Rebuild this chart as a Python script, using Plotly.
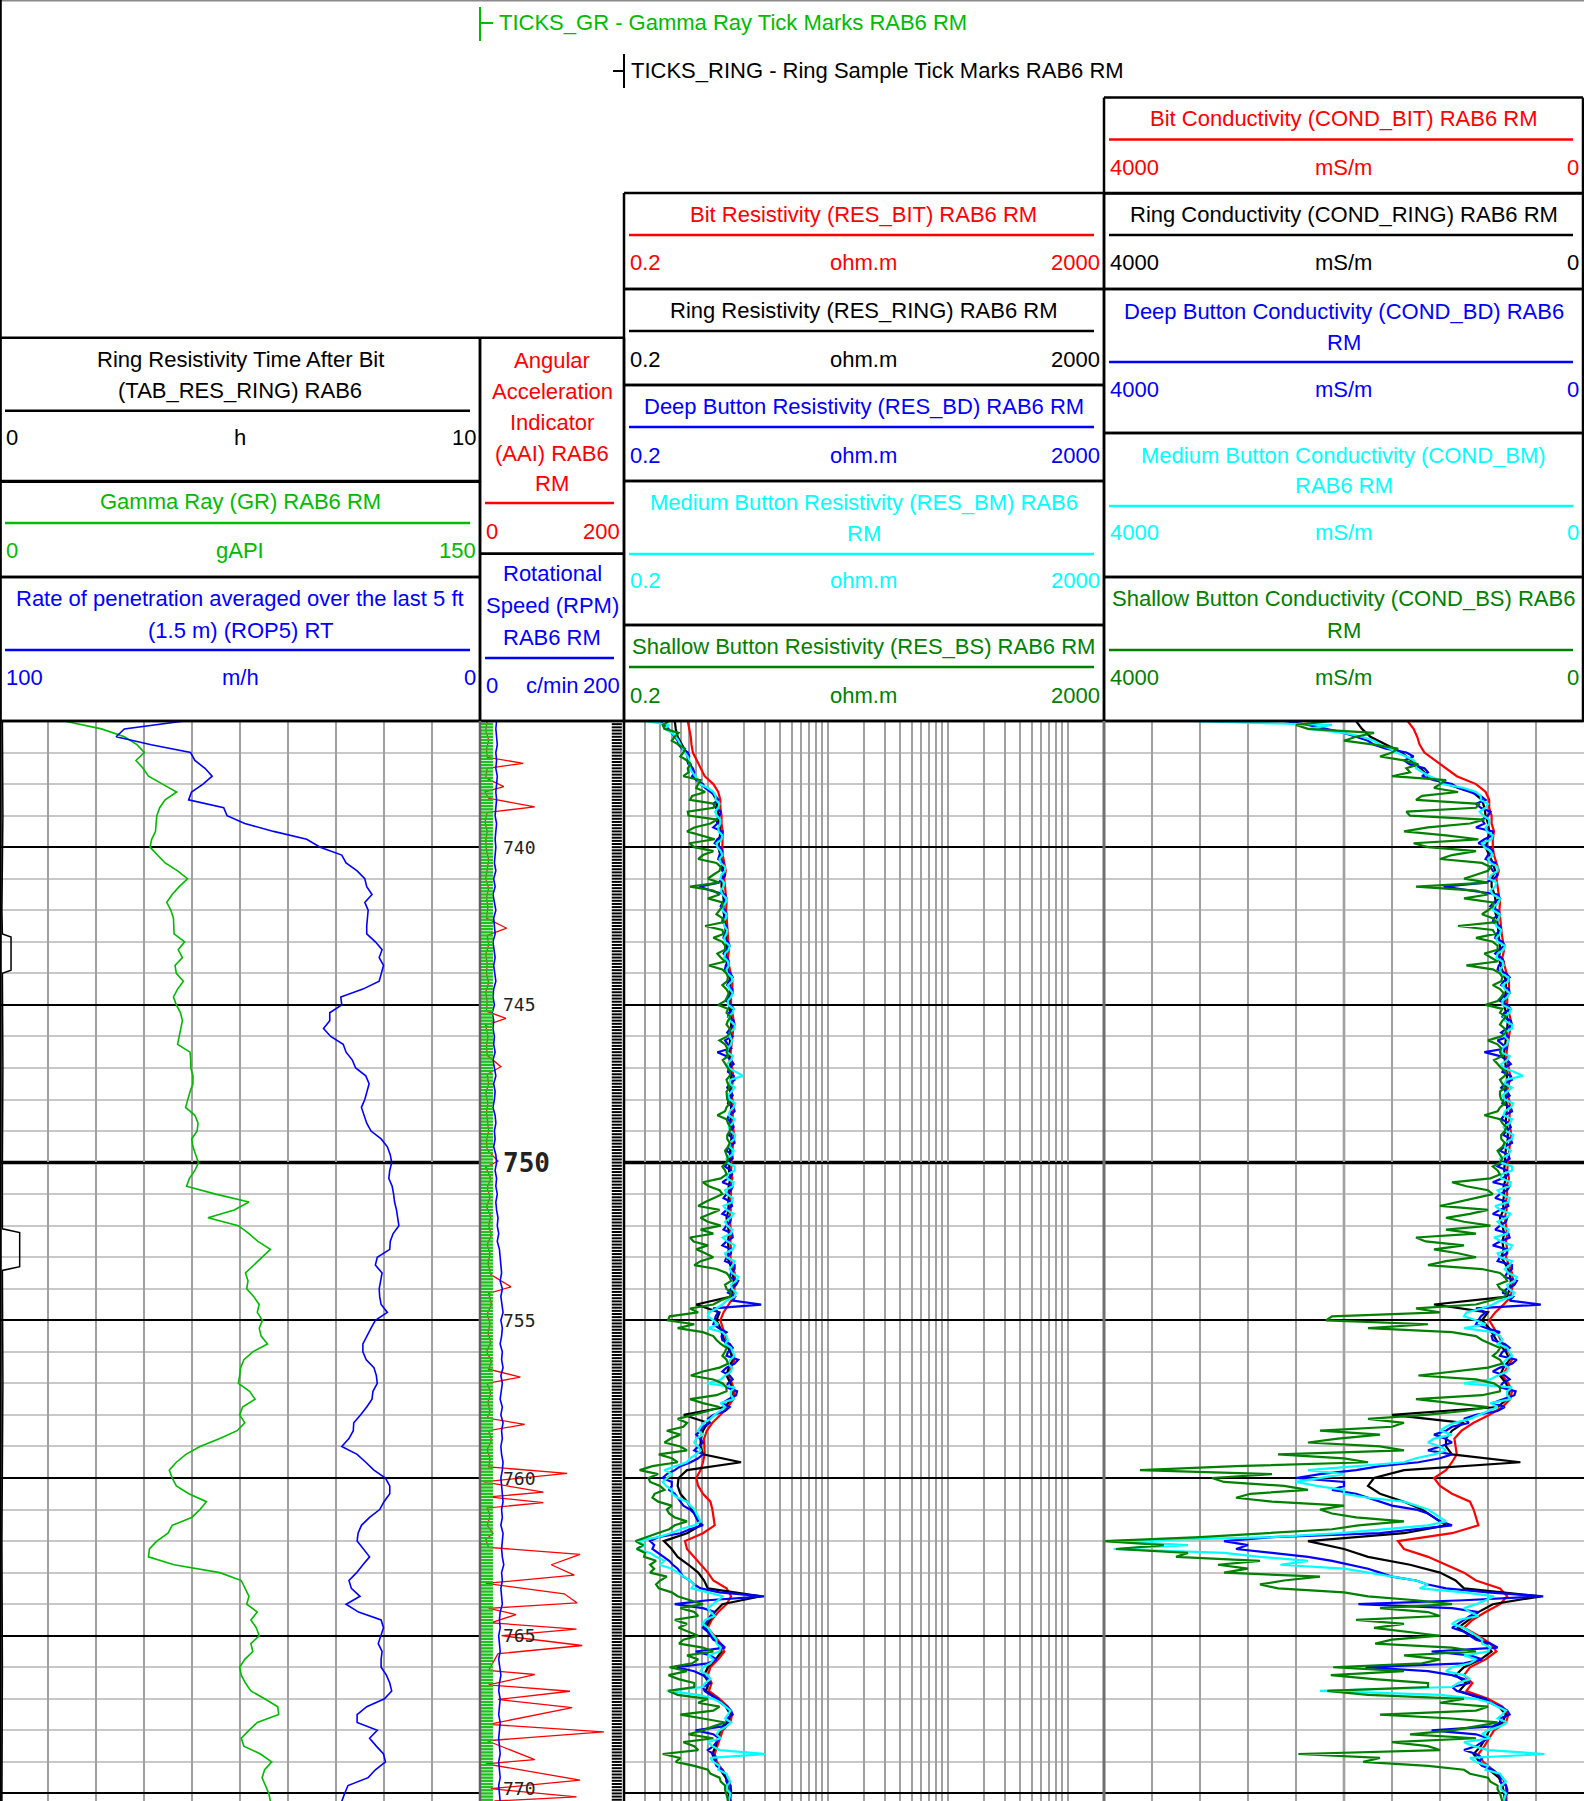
import numpy as np
import plotly.graph_objects as go

W, H = 1584, 1801
TOP_PX = 721

# ---------------- depth index ----------------
DEPTH_TOP = 736.0
DEPTH_BOTTOM = 770.24
DEPTH_STEP = 0.25
N_SAMPLES = 138
DEPTH = np.round(DEPTH_TOP + DEPTH_STEP * np.arange(N_SAMPLES), 3)
MID_DEPTH = np.round(DEPTH[:-1] + DEPTH_STEP / 2, 3)

DEPTH_LABELS = [740, 745, 750, 755, 760, 765, 770]
BOLD_DEPTH = 750

# ---------------- track 1 ----------------
GR = [20, 31.7, 38.9, 42.8, 45.1, 42.5, 44.7, 46.4, 50.8, 55.2,
      51.6, 49.9, 49, 48.7, 48.6, 47.4, 46.9, 49.2, 51.6, 55.5,
      58.6, 56, 53.8, 52.1, 53.4, 54.2, 54.4, 54.4, 57.7, 55.7,
      57, 54.7, 55.1, 57.3, 55.5, 54.2, 55.1, 56.4, 57, 56.4,
      56, 55.5, 59.4, 59.6, 59.6, 60.3, 60.3, 59.4, 58.6, 58,
      60.9, 61.9, 61.6, 59.9, 60.3, 61.2, 62, 60.9, 59.2, 58.3,
      67.4, 77.8, 73.2, 65, 74.5, 77.8, 80.6, 84.5, 81.9, 79.3,
      76.7, 77.5, 77.1, 79.3, 81, 80.4, 82, 81, 81.6, 83.6,
      79, 76.2, 75.2, 74.9, 74.5, 78, 79.7, 75.8, 74.9, 76.5,
      74.1, 68.7, 62.5, 58.1, 55.1, 52.9, 53.8, 55.1, 59, 64.5,
      62.5, 59.9, 53.8, 52.5, 49, 46.7, 46.4, 54.4, 68.7, 75.4,
      76.7, 77.8, 77.1, 80.4, 78.4, 80.1, 81, 78.4, 79, 76.5,
      74.9, 75.4, 76.7, 78.4, 82.7, 86.8, 87.1, 80.4, 77.8, 75.4,
      76.2, 81.4, 84.9, 82.7, 81.9, 82.9, 84, 84.5]

ROP5 = [61.6, 74.1, 75.8, 68.5, 60.3, 59.4, 57.3, 55.8, 57.7, 60.1,
        60.7, 53.4, 52.7, 49, 43, 36.1, 33.3, 28.8, 27.9, 25.6,
        24, 23.6, 22.5, 24, 23.3, 23.5, 23.6, 23.6, 21.8, 20.4,
        21, 20.1, 20.6, 21, 24.4, 29, 28.8, 31.3, 31.3, 32.6,
        31.1, 28.5, 27.9, 26.6, 25.9, 23.8, 23.1, 23.6, 24, 24.7,
        24.2, 23.6, 22.7, 20.6, 19.3, 18.7, 18.4, 18.8, 19, 18.3,
        18, 17.8, 17.4, 17.1, 16.9, 18.1, 18.7, 18.8, 21.4, 21.8,
        20.4, 20.7, 21, 20.9, 20.6, 19.3, 21.8, 22.7, 23.6, 24.4,
        24.4, 23.7, 22.1, 21.6, 21.4, 22.3, 22.5, 23.6, 24.9, 26.3,
        26.4, 27.3, 28.8, 25.6, 23.8, 22.1, 19.7, 18.8, 18.8, 20,
        20.9, 23, 24.7, 25.4, 25.6, 24.2, 23, 24.4, 25.7, 27.3,
        26.8, 25, 27.9, 25.3, 20.6, 20.1, 20.6, 21.2, 20.4, 20.6,
        20.6, 19.5, 18.8, 18.4, 19.9, 23.6, 25.6, 25.6, 21.4, 23,
        21.6, 20.1, 19.7, 21.8, 23.3, 27.5, 28.2, 28.8]

TAB_DEPTH = [736.0, 739.0, 742.0, 742.75, 742.85, 743.9, 744.0, 747.0, 750.0,
             752.1, 752.22, 753.3, 753.42, 757.0, 762.0, 766.0, 770.24]
TAB_RES_RING = [0.05, 0.06, 0.04, 0.05, 0.23, 0.23, 0.05, 0.06, 0.05,
                0.05, 0.41, 0.41, 0.05, 0.06, 0.04, 0.05, 0.04]

# ---------------- depth track ----------------
RPM = [23, 22, 23, 24, 22, 23, 22, 24, 23, 22,
       23, 22, 21, 23, 22, 21, 22, 21, 20, 22,
       19, 21, 18, 20, 22, 19, 20, 21, 18, 20,
       21, 19, 20, 22, 19, 18, 20, 17, 19, 18,
       20, 19, 21, 18, 20, 22, 19, 21, 20, 18,
       21, 22, 20, 21, 19, 22, 23, 21, 23, 22,
       24, 22, 23, 25, 24, 26, 24, 27, 28, 29,
       30, 28, 31, 29, 30, 32, 29, 31, 30, 28,
       31, 30, 32, 29, 31, 30, 28, 31, 29, 32,
       30, 31, 29, 30, 32, 31, 29, 30, 31, 32,
       30, 31, 29, 32, 31, 30, 31, 33, 30, 31,
       29, 30, 31, 28, 27, 28, 26, 27, 28, 26,
       27, 29, 27, 26, 28, 27, 26, 28, 27, 26,
       27, 28, 26, 27, 28, 26, 27, 28]

AAI_DEPTH = [736.0, 736.3, 736.6, 736.9, 737.15, 737.34, 737.5, 737.8, 738.08, 738.25,
             738.45, 738.72, 738.9, 739.2, 739.5, 739.8, 740.1, 740.4, 740.7, 741.0,
             741.3, 741.6, 741.9, 742.25, 742.57, 742.8, 743.1, 743.4, 743.7, 744.0,
             744.3, 744.6, 744.9, 745.2, 745.43, 745.65, 746.0, 746.3, 746.6, 746.96,
             747.2, 747.5, 747.8, 748.1, 748.4, 748.7, 749.0, 749.3, 749.6, 749.95,
             750.15, 750.5, 750.8, 751.1, 751.4, 751.7, 752.0, 752.3, 752.6, 752.9,
             753.2, 753.55, 753.94, 754.15, 754.5, 754.8, 755.1, 755.4, 755.7, 756.0,
             756.3, 756.55, 756.8, 757.0, 757.3, 757.6, 757.9, 758.1, 758.3, 758.5,
             758.8, 759.1, 759.4, 759.65, 759.85, 760.12, 760.45, 760.6, 760.78, 760.95,
             761.2, 761.5, 761.75, 761.96, 762.2, 762.42, 762.75, 763.08, 763.34, 763.67,
             763.96, 764.13, 764.33, 764.59, 764.79, 765.0, 765.31, 765.57, 766.1, 766.23,
             766.56, 766.76, 767.02, 767.28, 767.81, 768.05, 768.33, 768.93, 769.06, 769.58,
             769.85, 770.11, 770.24]
AAI = [10, 8, 12, 9, 10, 60, 10, 8, 33, 7,
       12, 76, 10, 7, 10, 8, 9, 12, 10, 8,
       12, 9, 11, 9, 37, 10, 12, 8, 10, 9,
       12, 8, 10, 9, 36, 8, 11, 9, 10, 29,
       10, 12, 8, 11, 9, 10, 12, 9, 10, 25,
       8, 15, 10, 14, 9, 15, 12, 16, 10, 14,
       11, 15, 43, 12, 16, 10, 14, 11, 15, 9,
       16, 12, 56, 10, 15, 11, 14, 10, 62, 12,
       16, 10, 14, 12, 121, 5, 88, 12, 88, 10,
       14, 10, 18, 8, 12, 139, 99, 131, 8, 117,
       135, 12, 50, 15, 134, 30, 142, 25, 12, 76,
       12, 125, 25, 128, 12, 172, 10, 76, 8, 139,
       15, 134, 20]

# ---------------- track 2 : resistivity (ohm.m) ----------------
RES_BIT = [0.68, 0.70, 0.72, 0.73, 0.75, 0.81, 0.87, 0.94, 1.11, 1.22,
           1.27, 1.27, 1.30, 1.30, 1.33, 1.32, 1.32, 1.33, 1.37, 1.41,
           1.37, 1.39, 1.41, 1.43, 1.42, 1.43, 1.45, 1.46, 1.48, 1.50,
           1.47, 1.50, 1.55, 1.60, 1.60, 1.56, 1.56, 1.60, 1.64, 1.63,
           1.60, 1.56, 1.55, 1.56, 1.60, 1.63, 1.60, 1.56, 1.60, 1.63,
           1.61, 1.60, 1.64, 1.64, 1.61, 1.60, 1.59, 1.56, 1.60, 1.55,
           1.56, 1.54, 1.55, 1.52, 1.54, 1.56, 1.54, 1.56, 1.54, 1.60,
           1.67, 1.69, 1.67, 1.64, 1.49, 1.35, 1.27, 1.33, 1.41, 1.47,
           1.60, 1.67, 1.56, 1.47, 1.59, 1.67, 1.63, 1.47, 1.27, 1.09,
           0.98, 0.93, 0.935, 0.94, 0.91, 0.87, 0.80, 0.83, 0.91, 1.05,
           1.09, 1.11, 1.14, 0.91, 0.645, 0.67, 0.77, 0.87, 1.00, 1.11,
           1.43, 1.56, 1.43, 1.22, 1.075, 1.00, 1.14, 1.28, 1.37, 1.22,
           1.05, 1.00, 1.075, 1.02, 1.25, 1.47, 1.59, 1.54, 1.33, 1.27,
           1.20, 1.14, 1.19, 1.32, 1.47, 1.54, 1.55, 1.55]

RES_RING = [0.53, 0.54, 0.56, 0.61, 0.66, 0.69, 0.74, 0.77, 0.87, 1.08,
            1.18, 1.20, 1.22, 1.25, 1.27, 1.25, 1.22, 1.27, 1.32, 1.35,
            1.30, 1.30, 1.34, 1.36, 1.34, 1.38, 1.39, 1.41, 1.42, 1.44,
            1.41, 1.44, 1.48, 1.54, 1.54, 1.52, 1.50, 1.54, 1.57, 1.56,
            1.54, 1.53, 1.50, 1.52, 1.54, 1.56, 1.54, 1.53, 1.54, 1.56,
            1.54, 1.54, 1.57, 1.57, 1.54, 1.53, 1.52, 1.50, 1.54, 1.49,
            1.50, 1.48, 1.49, 1.43, 1.47, 1.50, 1.47, 1.49, 1.45, 1.54,
            1.61, 1.64, 1.61, 1.56, 0.80, 1.25, 1.18, 1.27, 1.33, 1.41,
            1.54, 1.61, 1.49, 1.43, 1.54, 1.61, 1.56, 1.39, 0.63, 1.00,
            0.91, 0.87, 0.87, 0.91, 1.89, 0.67, 0.57, 0.56, 0.59, 0.67,
            0.74, 0.80, 0.87, 0.67, 0.43, 0.50, 0.56, 0.69, 0.83, 0.93,
            1.00, 2.78, 1.32, 1.14, 1.04, 0.95, 1.08, 1.22, 1.30, 1.16,
            1.00, 0.93, 1.02, 0.96, 1.18, 1.41, 1.54, 1.47, 1.27, 1.22,
            1.16, 1.09, 1.15, 1.27, 1.41, 1.47, 1.50, 1.52]

RES_BD = [0.40, 0.47, 0.53, 0.57, 0.68, 0.67, 0.75, 0.74, 0.91, 1.05,
          1.22, 1.16, 1.25, 1.20, 1.32, 1.20, 1.27, 1.25, 1.35, 1.32,
          1.33, 0.85, 1.39, 1.33, 1.39, 1.33, 1.43, 1.37, 1.47, 1.41,
          1.45, 1.41, 1.54, 1.49, 1.60, 1.47, 1.56, 1.50, 1.64, 1.54,
          1.60, 1.47, 1.20, 1.56, 1.50, 1.64, 1.52, 1.56, 1.49, 1.64,
          1.50, 1.60, 1.54, 1.64, 1.50, 1.59, 1.47, 1.56, 1.47, 1.61,
          1.43, 1.56, 1.43, 1.56, 1.43, 1.59, 1.43, 1.56, 1.43, 1.67,
          1.56, 1.79, 1.56, 1.69, 2.78, 1.22, 1.14, 1.23, 1.30, 1.52,
          1.47, 1.79, 1.43, 1.52, 1.47, 1.75, 1.49, 1.52, 1.11, 1.04,
          0.87, 0.86, 0.83, 0.91, 0.72, 0.53, 0.42, 0.50, 0.53, 0.59,
          0.71, 0.80, 0.91, 0.59, 0.33, 0.345, 0.435, 0.51, 0.59, 0.71,
          0.87, 2.94, 0.53, 1.14, 1.00, 0.91, 1.05, 1.28, 0.79, 1.18,
          0.55, 0.91, 1.05, 0.94, 1.22, 1.45, 1.61, 1.43, 0.79, 1.25,
          1.11, 1.11, 1.14, 1.32, 1.45, 1.54, 1.56, 1.54]
RES_BD_MID = [0.435, 0.50, 0.56, 0.61, 0.70, 0.69, 0.77, 0.80, 0.95, 1.16,
              1.11, 1.28, 1.18, 1.11, 1.32, 1.14, 1.32, 1.22, 1.28, 1.39,
              1.22, 1.05, 1.43, 1.28, 1.43, 1.32, 1.45, 1.35, 1.52, 1.35,
              1.49, 1.39, 1.61, 1.45, 1.61, 1.43, 1.64, 1.47, 1.67, 1.45,
              1.39, 1.56, 1.43, 1.64, 1.47, 1.67, 1.45, 1.61, 1.47, 1.67,
              1.45, 1.64, 1.49, 1.67, 1.43, 1.61, 1.39, 1.59, 1.32, 1.56,
              1.35, 1.59, 1.32, 1.54, 1.35, 1.61, 1.32, 1.56, 1.39, 1.67,
              1.52, 1.72, 1.47, 1.61, 1.11, 1.16, 1.11, 1.43, 1.32, 1.61,
              1.43, 1.67, 1.32, 1.61, 1.43, 1.72, 1.32, 1.39, 1.00, 0.91,
              0.80, 0.91, 0.77, 0.83, 0.59, 0.455, 0.50, 0.476, 0.56, 0.625,
              0.77, 0.83, 0.71, 0.385, 0.357, 0.385, 0.476, 0.56, 0.625, 0.77,
              1.25, 1.00, 0.91, 1.05, 0.95, 1.00, 1.11, 1.39, 1.05, 1.00,
              0.77, 1.00, 0.91, 1.05, 1.28, 1.56, 1.43, 1.32, 1.11, 1.18,
              1.00, 1.18, 1.18, 1.39, 1.43, 1.56, 1.52]

RES_BM = [0.30, 0.435, 0.54, 0.59, 0.64, 0.70, 0.71, 0.78, 0.85, 1.11,
          1.16, 1.22, 1.19, 1.27, 1.23, 1.30, 1.20, 1.32, 1.28, 1.39,
          1.27, 1.35, 1.32, 1.41, 1.32, 1.41, 1.37, 1.43, 1.39, 1.49,
          1.37, 1.49, 1.45, 1.59, 1.52, 1.56, 1.47, 1.61, 1.52, 1.67,
          1.52, 1.56, 1.45, 1.56, 1.49, 1.96, 1.52, 1.56, 1.52, 1.64,
          1.49, 1.61, 1.54, 1.67, 1.52, 1.59, 1.45, 1.67, 1.45, 1.61,
          1.45, 1.59, 1.43, 1.54, 1.45, 1.56, 1.45, 1.61, 1.43, 1.61,
          1.59, 1.72, 1.59, 1.67, 1.32, 1.02, 1.11, 1.00, 1.43, 1.39,
          1.61, 1.54, 1.59, 1.39, 1.00, 1.56, 1.64, 1.39, 1.14, 0.93,
          0.83, 0.80, 0.83, 0.80, 0.67, 0.435, 0.455, 0.45, 0.50, 0.67,
          0.77, 0.83, 0.77, 0.49, 0.253, 0.255, 0.37, 0.395, 0.56, 0.71,
          0.73, 1.33, 1.11, 1.05, 0.95, 1.00, 1.11, 1.18, 1.25, 1.11,
          0.91, 1.00, 0.95, 0.455, 1.11, 1.39, 1.47, 1.56, 1.25, 1.28,
          1.09, 3.03, 1.11, 1.22, 1.47, 1.45, 1.54, 1.49]
RES_BM_MID = [0.476, 0.50, 0.57, 0.62, 0.68, 0.71, 0.74, 0.83, 1.00, 1.16,
              1.25, 1.15, 1.27, 1.22, 1.32, 1.18, 1.28, 1.25, 1.39, 1.30,
              1.37, 1.28, 1.43, 1.33, 1.43, 1.35, 1.45, 1.37, 1.52, 1.39,
              1.47, 1.43, 1.59, 1.47, 1.61, 1.47, 1.64, 1.49, 1.67, 1.52,
              1.59, 1.47, 1.61, 1.45, 1.72, 1.54, 1.67, 1.47, 1.69, 1.52,
              1.67, 1.49, 1.69, 1.52, 1.64, 1.43, 1.67, 1.45, 1.64, 1.39,
              1.61, 1.35, 1.64, 1.39, 1.59, 1.33, 1.67, 1.39, 1.67, 1.52,
              1.79, 1.56, 1.72, 1.43, 1.18, 1.00, 1.22, 1.32, 1.47, 1.56,
              1.67, 1.47, 1.56, 1.28, 1.67, 1.56, 1.28, 1.25, 1.05, 0.87,
              0.91, 0.77, 0.87, 0.71, 0.53, 0.50, 0.42, 0.50, 0.56, 0.71,
              0.80, 0.87, 0.59, 0.385, 0.30, 0.33, 0.435, 0.50, 0.625, 0.77,
              1.00, 1.22, 1.00, 1.14, 0.91, 1.05, 1.18, 1.28, 1.00, 1.05,
              0.87, 1.05, 0.91, 0.83, 1.28, 1.54, 1.39, 1.43, 1.18, 1.00,
              1.25, 1.05, 1.25, 1.43, 1.54, 1.45, 1.52]

RES_BS = [0.476, 0.435, 0.53, 0.57, 0.625, 0.67, 0.68, 0.625, 0.83, 0.95,
          0.71, 1.11, 0.69, 1.05, 0.67, 1.14, 0.77, 0.91, 1.18, 1.25,
          1.00, 0.71, 1.25, 1.32, 1.25, 1.32, 0.95, 1.35, 1.32, 1.39,
          1.28, 1.02, 1.43, 1.45, 1.43, 1.45, 1.22, 1.43, 1.47, 1.52,
          1.45, 1.39, 1.43, 1.33, 1.45, 1.52, 1.47, 1.43, 1.45, 1.43,
          1.20, 1.47, 1.52, 1.45, 1.47, 1.43, 1.43, 1.39, 1.28, 1.02,
          1.32, 0.95, 1.25, 0.87, 1.28, 1.11, 0.76, 0.80, 1.11, 0.77,
          1.43, 1.56, 1.43, 1.52, 1.11, 0.83, 0.465, 0.56, 1.11, 1.28,
          1.39, 1.43, 1.25, 0.72, 1.33, 1.43, 0.71, 1.25, 0.76, 0.67,
          0.455, 0.49, 0.59, 0.39, 0.56, 0.27, 0.32, 0.40, 0.36, 0.385,
          0.455, 0.53, 0.53, 0.38, 0.25, 0.256, 0.294, 0.33, 0.33, 0.40,
          0.39, 0.56, 0.91, 0.77, 0.53, 0.57, 0.83, 0.575, 1.11, 0.83,
          0.48, 0.47, 0.77, 0.47, 1.00, 1.25, 0.59, 1.39, 0.91, 1.11,
          0.77, 0.42, 0.54, 1.00, 1.25, 1.39, 1.43, 1.47]
RES_BS_MID = [0.42, 0.57, 0.50, 0.645, 0.59, 0.72, 0.69, 0.87, 0.80, 0.74,
              1.15, 0.68, 1.20, 0.77, 0.87, 0.70, 1.11, 0.83, 1.28, 1.11,
              1.25, 1.11, 1.00, 1.32, 1.18, 1.37, 1.32, 1.11, 1.39, 1.20,
              1.39, 1.32, 1.47, 1.32, 1.49, 1.39, 1.47, 1.54, 1.43, 1.54,
              1.25, 1.45, 1.47, 1.39, 1.54, 1.43, 1.52, 1.43, 1.52, 1.39,
              1.43, 1.54, 1.45, 1.52, 1.39, 1.47, 1.32, 1.43, 0.91, 1.25,
              1.11, 0.83, 1.05, 1.00, 0.87, 0.71, 1.00, 0.95, 0.87, 1.18,
              1.52, 1.39, 1.56, 1.28, 0.71, 0.48, 0.77, 0.91, 1.18, 1.43,
              1.32, 1.47, 0.91, 1.11, 1.43, 1.18, 0.91, 1.00, 0.56, 0.625,
              0.59, 0.435, 0.67, 0.50, 0.345, 0.385, 0.33, 0.435, 0.345, 0.50,
              0.476, 0.67, 0.476, 0.31, 0.286, 0.30, 0.37, 0.357, 0.455, 0.37,
              0.50, 0.71, 0.59, 0.83, 0.67, 0.69, 0.625, 0.91, 0.67, 0.74,
              0.67, 0.57, 0.77, 0.56, 0.83, 1.11, 0.91, 1.11, 0.69, 0.625,
              0.83, 0.59, 0.77, 1.05, 1.28, 1.39, 1.45]

# ---------------- track 3 : conductivity (mS/m) ----------------
COND_BIT = [1470, 1420, 1390, 1370, 1330, 1240, 1150, 1060, 900, 820,
            790, 790, 770, 770, 750, 760, 760, 750, 730, 710,
            730, 720, 710, 700, 705, 700, 690, 685, 675, 665,
            680, 665, 645, 625, 625, 640, 640, 625, 610, 615,
            625, 640, 645, 640, 625, 615, 625, 640, 625, 615,
            620, 625, 610, 610, 620, 625, 630, 640, 625, 645,
            640, 650, 645, 660, 650, 640, 650, 640, 650, 625,
            600, 590, 600, 610, 670, 740, 790, 750, 710, 680,
            625, 600, 640, 680, 630, 600, 615, 680, 790, 920,
            1020, 1080, 1070, 1060, 1100, 1150, 1250, 1200, 1100, 950,
            920, 900, 880, 1100, 1550, 1500, 1300, 1150, 1000, 900,
            700, 640, 700, 820, 930, 1000, 880, 780, 730, 820,
            950, 1000, 930, 980, 800, 680, 630, 650, 750, 790,
            830, 880, 840, 760, 680, 650, 645, 645]

COND_RING = [1900, 1850, 1780, 1650, 1520, 1440, 1360, 1300, 1150, 930,
             850, 830, 820, 800, 790, 800, 820, 790, 760, 740,
             770, 770, 745, 735, 745, 725, 720, 710, 705, 695,
             710, 695, 675, 650, 650, 660, 665, 650, 635, 640,
             650, 655, 665, 660, 650, 640, 650, 655, 650, 640,
             650, 650, 635, 635, 650, 655, 660, 665, 650, 670,
             665, 675, 670, 700, 680, 665, 680, 670, 690, 650,
             620, 610, 620, 640, 1250, 800, 850, 790, 750, 710,
             650, 620, 670, 700, 650, 620, 640, 720, 1600, 1000,
             1100, 1150, 1150, 1100, 530, 1500, 1750, 1800, 1700, 1500,
             1350, 1250, 1150, 1500, 2300, 2000, 1800, 1450, 1200, 1070,
             1000, 360, 760, 880, 960, 1050, 930, 820, 770, 860,
             1000, 1070, 980, 1040, 850, 710, 650, 680, 790, 820,
             860, 920, 870, 790, 710, 680, 665, 660]

COND_BD = [2500, 2150, 1900, 1750, 1480, 1500, 1330, 1350, 1100, 950,
           820, 860, 800, 830, 760, 830, 790, 800, 740, 760,
           750, 1170, 720, 750, 720, 750, 700, 730, 680, 710,
           690, 710, 650, 670, 625, 680, 640, 665, 610, 650,
           625, 680, 830, 640, 665, 610, 660, 640, 670, 610,
           665, 625, 650, 610, 665, 630, 680, 640, 680, 620,
           700, 640, 700, 640, 700, 630, 700, 640, 700, 600,
           640, 560, 640, 590, 360, 820, 880, 810, 770, 660,
           680, 560, 700, 660, 680, 570, 670, 660, 900, 960,
           1150, 1160, 1200, 1100, 1380, 1900, 2400, 2000, 1900, 1700,
           1400, 1250, 1100, 1700, 3000, 2900, 2300, 1950, 1700, 1400,
           1150, 340, 1880, 880, 1000, 1100, 950, 780, 1270, 850,
           1820, 1100, 950, 1060, 820, 690, 620, 700, 1270, 800,
           900, 900, 880, 760, 690, 650, 640, 650]
COND_BD_MID = [2300, 2000, 1800, 1650, 1420, 1450, 1300, 1250, 1050, 860,
               900, 780, 850, 900, 760, 880, 760, 820, 780, 720,
               820, 950, 700, 780, 700, 760, 690, 740, 660, 740,
               670, 720, 620, 690, 620, 700, 610, 680, 600, 690,
               720, 640, 700, 610, 680, 600, 690, 620, 680, 600,
               690, 610, 670, 600, 700, 620, 720, 630, 760, 640,
               740, 630, 760, 650, 740, 620, 760, 640, 720, 600,
               660, 580, 680, 620, 900, 860, 900, 700, 760, 620,
               700, 600, 760, 620, 700, 580, 760, 720, 1000, 1100,
               1250, 1100, 1300, 1200, 1700, 2200, 2000, 2100, 1800, 1600,
               1300, 1200, 1400, 2600, 2800, 2600, 2100, 1800, 1600, 1300,
               800, 1000, 1100, 950, 1050, 1000, 900, 720, 950, 1000,
               1300, 1000, 1100, 950, 780, 640, 700, 760, 900, 850,
               1000, 850, 850, 720, 700, 640, 660]

COND_BM = [3300, 2300, 1850, 1700, 1560, 1420, 1400, 1290, 1180, 900,
           860, 820, 840, 790, 810, 770, 830, 760, 780, 720,
           790, 740, 760, 710, 760, 710, 730, 700, 720, 670,
           730, 670, 690, 630, 660, 640, 680, 620, 660, 600,
           660, 640, 690, 640, 670, 510, 660, 640, 660, 610,
           670, 620, 650, 600, 660, 630, 690, 600, 690, 620,
           690, 630, 700, 650, 690, 640, 690, 620, 700, 620,
           630, 580, 630, 600, 760, 980, 900, 1000, 700, 720,
           620, 650, 630, 720, 1000, 640, 610, 720, 880, 1080,
           1200, 1250, 1200, 1250, 1500, 2300, 2200, 2230, 2000, 1500,
           1300, 1200, 1300, 2030, 3950, 3920, 2700, 2530, 1800, 1400,
           1370, 750, 900, 950, 1050, 1000, 900, 850, 800, 900,
           1100, 1000, 1050, 2200, 900, 720, 680, 640, 800, 780,
           920, 330, 900, 820, 680, 690, 650, 670]
COND_BM_MID = [2100, 2000, 1750, 1620, 1480, 1400, 1350, 1200, 1000, 860,
               800, 870, 790, 820, 760, 850, 780, 800, 720, 770,
               730, 780, 700, 750, 700, 740, 690, 730, 660, 720,
               680, 700, 630, 680, 620, 680, 610, 670, 600, 660,
               630, 680, 620, 690, 580, 650, 600, 680, 590, 660,
               600, 670, 590, 660, 610, 700, 600, 690, 610, 720,
               620, 740, 610, 720, 630, 750, 600, 720, 600, 660,
               560, 640, 580, 700, 850, 1000, 820, 760, 680, 640,
               600, 680, 640, 780, 600, 640, 780, 800, 950, 1150,
               1100, 1300, 1150, 1400, 1900, 2000, 2400, 2000, 1800, 1400,
               1250, 1150, 1700, 2600, 3300, 3000, 2300, 2000, 1600, 1300,
               1000, 820, 1000, 880, 1100, 950, 850, 780, 1000, 950,
               1150, 950, 1100, 1200, 780, 650, 720, 700, 850, 1000,
               800, 950, 800, 700, 650, 690, 660]

COND_BS = [2100, 2300, 1900, 1750, 1600, 1500, 1480, 1600, 1200, 1050,
           1400, 900, 1450, 950, 1500, 880, 1300, 1100, 850, 800,
           1000, 1400, 800, 760, 800, 760, 1050, 740, 760, 720,
           780, 980, 700, 690, 700, 690, 820, 700, 680, 660,
           690, 720, 700, 750, 690, 660, 680, 700, 690, 700,
           830, 680, 660, 690, 680, 700, 700, 720, 780, 980,
           760, 1050, 800, 1150, 780, 900, 1320, 1250, 900, 1300,
           700, 640, 700, 660, 900, 1200, 2150, 1800, 900, 780,
           720, 700, 800, 1380, 750, 700, 1400, 800, 1320, 1500,
           2200, 2050, 1700, 2550, 1800, 3700, 3100, 2500, 2780, 2600,
           2200, 1900, 1880, 2650, 4000, 3900, 3400, 3050, 3000, 2500,
           2550, 1800, 1100, 1300, 1900, 1750, 1200, 1740, 900, 1200,
           2090, 2110, 1300, 2140, 1000, 800, 1700, 720, 1100, 900,
           1300, 2380, 1840, 1000, 800, 720, 700, 680]
COND_BS_MID = [2400, 1750, 2000, 1550, 1700, 1380, 1450, 1150, 1250, 1350,
               870, 1480, 830, 1300, 1150, 1420, 900, 1200, 780, 900,
               800, 900, 1000, 760, 850, 730, 760, 900, 720, 830,
               720, 760, 680, 760, 670, 720, 680, 650, 700, 650,
               800, 690, 680, 720, 650, 700, 660, 700, 660, 720,
               700, 650, 690, 660, 720, 680, 760, 700, 1100, 800,
               900, 1200, 950, 1000, 1150, 1400, 1000, 1050, 1150, 850,
               660, 720, 640, 780, 1400, 2100, 1300, 1100, 850, 700,
               760, 680, 1100, 900, 700, 850, 1100, 1000, 1800, 1600,
               1700, 2300, 1500, 2000, 2900, 2600, 3000, 2300, 2900, 2000,
               2100, 1500, 2100, 3200, 3500, 3300, 2700, 2800, 2200, 2700,
               2000, 1400, 1700, 1200, 1500, 1450, 1600, 1100, 1500, 1350,
               1500, 1750, 1300, 1800, 1200, 900, 1100, 900, 1450, 1600,
               1200, 1700, 1300, 950, 780, 720, 690]

# tick-mark sampling (sample marks in the depth track)
TICKS_GR_STEP = 0.1
TICKS_RING_STEP = 0.1

# ---------------- styling ----------------
FONT = "Liberation Sans, Arial, sans-serif"
MONO = "DejaVu Sans Mono, monospace"
GR_GREEN = "#00bb00"
BS_GREEN = "#008000"
CYAN = "#00ffff"
BLUE = "#0000ff"
RED = "#ff0000"
BLACK = "#000000"

T1 = (0, 480)
TD = (480, 624)
T2 = (624, 1104)
T3 = (1104, 1584)
YDOM = [0, (H - TOP_PX) / H]


def px(x):
    return x / W


def py(y):
    return 1 - y / H


def interleave(main, mid):
    out = []
    for i, v in enumerate(main):
        out.append(v)
        if i < len(mid):
            out.append(mid[i])
    return out


FULL_DEPTH = interleave(list(DEPTH), list(MID_DEPTH))

fig = go.Figure()


def add_curve(x, y, xa, ya, color, width):
    fig.add_trace(go.Scatter(x=x, y=y, xaxis=xa, yaxis=ya, mode="lines",
                             line=dict(color=color, width=width),
                             showlegend=False, hoverinfo="skip"))


# Track 1
add_curve(TAB_RES_RING, TAB_DEPTH, "x", "y", BLACK, 1.5)
add_curve(GR, DEPTH, "x2", "y", GR_GREEN, 1.6)
add_curve(ROP5, DEPTH, "x3", "y", BLUE, 1.6)


# Depth track tick marks
def tick_trace(step, x0, x1, color, width, opacity):
    depths = np.arange(DEPTH_TOP, DEPTH_BOTTOM, step)
    xs, ys = [], []
    for d in depths:
        xs += [x0, x1, None]
        ys += [d, d, None]
    fig.add_trace(go.Scatter(x=xs, y=ys, xaxis="x5", yaxis="y2", mode="lines",
                             line=dict(color=color, width=width), opacity=opacity,
                             showlegend=False, hoverinfo="skip"))


tick_trace(TICKS_GR_STEP, 0.0, 0.09, "#1fbf1f", 2.4, 1.0)
tick_trace(TICKS_RING_STEP, 0.915, 0.985, BLACK, 2.0, 1.0)
add_curve(AAI, AAI_DEPTH, "x4", "y2", RED, 1.3)
add_curve(RPM, DEPTH, "x4", "y2", BLUE, 1.6)

# Track 2
add_curve(RES_BIT, DEPTH, "x6", "y3", RED, 2.2)
add_curve(RES_RING, DEPTH, "x6", "y3", BLACK, 2.2)
add_curve(interleave(RES_BD, RES_BD_MID), FULL_DEPTH, "x6", "y3", BLUE, 2.2)
add_curve(interleave(RES_BM, RES_BM_MID), FULL_DEPTH, "x6", "y3", CYAN, 2.2)
add_curve(interleave(RES_BS, RES_BS_MID), FULL_DEPTH, "x6", "y3", BS_GREEN, 2.2)

# Track 3
add_curve(COND_BIT, DEPTH, "x7", "y4", RED, 2.2)
add_curve(COND_RING, DEPTH, "x7", "y4", BLACK, 2.2)
add_curve(interleave(COND_BD, COND_BD_MID), FULL_DEPTH, "x7", "y4", BLUE, 2.2)
add_curve(interleave(COND_BM, COND_BM_MID), FULL_DEPTH, "x7", "y4", CYAN, 2.2)
add_curve(interleave(COND_BS, COND_BS_MID), FULL_DEPTH, "x7", "y4", BS_GREEN, 2.2)

# ---------------- axes ----------------
common_y = dict(domain=YDOM, range=[DEPTH_BOTTOM, DEPTH_TOP], autorange=False,
                showticklabels=False, ticks="", zeroline=False, showline=False, fixedrange=True)
ygrid = dict(showgrid=True, dtick=5, tick0=0, gridcolor="#000000", gridwidth=2,
             minor=dict(dtick=1, tick0=0, showgrid=True, gridcolor="#c8c8c8", gridwidth=2))
xgrid = dict(showgrid=True, gridcolor="#a0a0a0", gridwidth=2, showticklabels=False,
             ticks="", zeroline=False, showline=False, fixedrange=True)

fig.update_layout(
    width=W, height=H, autosize=False,
    margin=dict(l=0, r=0, t=0, b=0, pad=0),
    paper_bgcolor="white", plot_bgcolor="rgba(0,0,0,0)",
    showlegend=False,
    xaxis=dict(domain=[px(T1[0]), px(T1[1])], range=[0, 10], dtick=1, tick0=0, anchor="y", **xgrid),
    xaxis2=dict(overlaying="x", range=[0, 150], visible=False, anchor="y"),
    xaxis3=dict(overlaying="x", range=[100, 0], visible=False, anchor="y"),
    xaxis4=dict(domain=[px(TD[0]), px(TD[1])], range=[0, 200], visible=False, anchor="y2"),
    xaxis5=dict(overlaying="x4", range=[0, 1], visible=False, anchor="y2"),
    xaxis6=dict(domain=[px(T2[0]), px(T2[1])], type="log",
                range=[np.log10(0.2), np.log10(2000)], dtick="D1", anchor="y3", **xgrid),
    xaxis7=dict(domain=[px(T3[0]), 1], range=[4000, 0], dtick=400, tick0=0, anchor="y4", **xgrid),
    yaxis=dict(anchor="x", **common_y, **ygrid),
    yaxis2=dict(anchor="x4", showgrid=False, **common_y),
    yaxis3=dict(anchor="x6", **common_y, **ygrid),
    yaxis4=dict(anchor="x7", **common_y, **ygrid),
)

shapes = []
annotations = []


def line(x0, y0, x1, y1, color=BLACK, width=2.5, layer="above"):
    shapes.append(dict(type="line", xref="paper", yref="paper",
                       x0=px(x0), y0=py(y0), x1=px(x1), y1=py(y1),
                       line=dict(color=color, width=width), layer=layer))


def text(s, x, y, color=BLACK, size=22, xanchor="center", family=FONT):
    annotations.append(dict(text=s, xref="paper", yref="paper", x=px(x), y=py(y),
                            xanchor=xanchor, yanchor="middle", showarrow=False,
                            font=dict(family=family, size=size, color=color)))


def header_box(x0, x1, top, titles, title_ys, rule_y, val_y, bottom, color, left, unit, right):
    line(x0, top, x1, top)
    line(x0, bottom, x1, bottom)
    line(x0, top, x0, bottom)
    line(x1, top, x1, bottom)
    for t, ty in zip(titles, title_ys):
        text(t, (x0 + x1) / 2, ty, color)
    line(x0 + 5, rule_y, x1 - 10, rule_y, color=color, width=2.5)
    text(left, x0 + 4, val_y, color, xanchor="left")
    if unit:
        text(unit, (x0 + x1) / 2, val_y, color)
    text(right, x1 - 2, val_y, color, xanchor="right")


def box1(x0, x1, top, title, color, left, unit, right):
    header_box(x0, x1, top, [title], [top + 21], top + 42, top + 70, top + 96, color, left, unit, right)


def box2(x0, x1, top, titles, color, left, unit, right):
    header_box(x0, x1, top, titles, [top + 22, top + 53], top + 73, top + 100, top + 144, color, left, unit, right)


# Track 1 headers
box2(0, 480, 337.7, ["Ring Resistivity Time After Bit", "(TAB_RES_RING) RAB6"], BLACK, "0", "h", "10")
box1(0, 480, 481, "Gamma Ray (GR) RAB6 RM", GR_GREEN, "0", "gAPI", "150")
box2(0, 480, 577, ["Rate of penetration averaged over the last 5 ft", "(1.5 m) (ROP5) RT"], BLUE, "100", "m/h", "0")

# Depth track headers
header_box(480, 624, 337.7, ["Angular", "Acceleration", "Indicator", "(AAI) RAB6", "RM"],
           [360, 391, 422, 453, 484], 503, 532, 553.7, RED, "0", "", "200")
header_box(480, 624, 553.7, ["Rotational", "Speed (RPM)", "RAB6 RM"],
           [574, 606, 637], 658, 685, 721, BLUE, "0", "c/min", "200")

# Track 2 headers
box1(624, 1104, 193, "Bit Resistivity (RES_BIT) RAB6 RM", RED, "0.2", "ohm.m", "2000")
box1(624, 1104, 289, "Ring Resistivity (RES_RING) RAB6 RM", BLACK, "0.2", "ohm.m", "2000")
box1(624, 1104, 385, "Deep Button Resistivity (RES_BD) RAB6 RM", BLUE, "0.2", "ohm.m", "2000")
box2(624, 1104, 481, ["Medium Button Resistivity (RES_BM) RAB6", "RM"], CYAN, "0.2", "ohm.m", "2000")
box1(624, 1104, 625, "Shallow Button Resistivity (RES_BS) RAB6 RM", BS_GREEN, "0.2", "ohm.m", "2000")

# Track 3 headers
box1(1104, 1583, 97.6, "Bit Conductivity (COND_BIT) RAB6 RM", RED, "4000", "mS/m", "0")
box1(1104, 1583, 193, "Ring Conductivity (COND_RING) RAB6 RM", BLACK, "4000", "mS/m", "0")
box2(1104, 1583, 289, ["Deep Button Conductivity (COND_BD) RAB6", "RM"], BLUE, "4000", "mS/m", "0")
box2(1104, 1583, 433, ["Medium Button Conductivity (COND_BM)", "RAB6 RM"], CYAN, "4000", "mS/m", "0")
box2(1104, 1583, 577, ["Shallow Button Conductivity (COND_BS) RAB6", "RM"], BS_GREEN, "4000", "mS/m", "0")

# Tick-mark legends at top
line(480, 7, 480, 41, color=GR_GREEN, width=2)
line(480, 23, 493, 23, color=GR_GREEN, width=2)
text("TICKS_GR - Gamma Ray Tick Marks RAB6 RM", 497, 23, GR_GREEN, xanchor="left")
line(624, 54, 624, 88, color=BLACK, width=2)
line(613, 71, 624, 71, color=BLACK, width=2)
text("TICKS_RING - Ring Sample Tick Marks RAB6 RM", 629, 71, BLACK, xanchor="left")

# Page border lines
line(0, 0.8, W, 0.8, color="#8a8a8a", width=1.5)
line(0.8, 0, 0.8, H, color=BLACK, width=2)
line(0, TOP_PX, W, TOP_PX, color=BLACK, width=2.5)
line(480, TOP_PX, 480, H, color="#606060", width=2.5)
line(624, TOP_PX, 624, H, color=BLACK, width=2.5)
line(1104, TOP_PX, 1104, H, color="#707070", width=3)

# thick line at the bold depth
for xr in [(0, 480), (624, 1104), (1104, 1584)]:
    shapes.append(dict(type="line", xref="paper", yref="y", x0=px(xr[0]), x1=px(xr[1]),
                       y0=BOLD_DEPTH, y1=BOLD_DEPTH, line=dict(color=BLACK, width=3.5), layer="below"))
# darker centre line in conductivity track
shapes.append(dict(type="line", xref="x7", yref="paper", x0=2000, x1=2000, y0=0, y1=YDOM[1],
                   line=dict(color="#808080", width=2.5), layer="below"))

# depth labels
for d in DEPTH_LABELS:
    bold = d == BOLD_DEPTH
    last = d == DEPTH_LABELS[-1]
    annotations.append(dict(text=("<b>%d</b>" % d) if bold else str(d), xref="paper", yref="y2",
                            x=px(501), y=d, xanchor="left", yanchor="middle", showarrow=False,
                            yshift=5 if last else 0,
                            font=dict(family=MONO, size=26 if bold else 18, color="#222222")))

fig.update_layout(shapes=shapes, annotations=annotations)
fig.write_html(
    "out.html",
    config={"displayModeBar": False},
    post_script=("document.documentElement.style.margin='0';document.body.style.margin='0';"
                 "document.body.style.padding='0';document.body.style.overflow='hidden';"
                 "document.documentElement.style.overflow='hidden';"),
)
